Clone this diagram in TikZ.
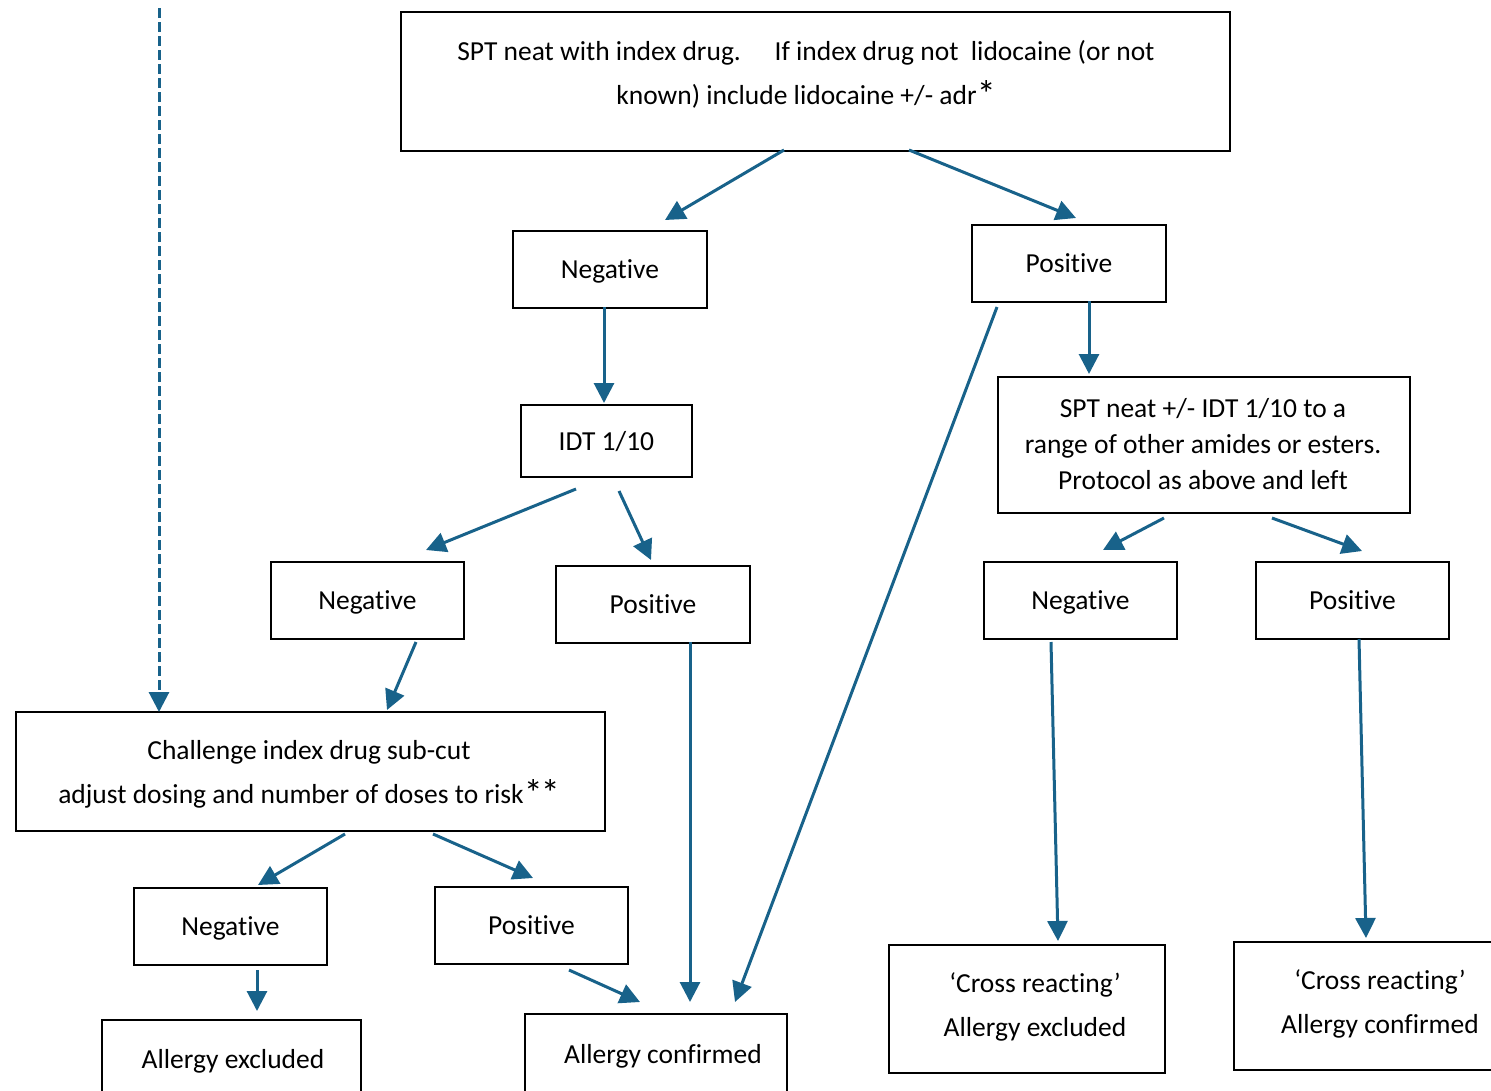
\documentclass[tikz,border=0pt]{standalone}
\usepackage{fontspec}
\setmainfont{Carlito}[Ligatures=NoCommon]
\usetikzlibrary{arrows.meta}
\definecolor{arr}{HTML}{18628A}
\newcommand{\bigast}{\raisebox{-3pt}{\fontsize{38}{38}\selectfont*}}
\begin{document}
\begin{tikzpicture}[x=1pt,y=-1pt,
  box/.style={draw=black,line width=1.8pt,inner sep=0pt,anchor=north west,
    font=\fontsize{27.5}{44}\selectfont,text depth=0pt,text height=19pt},
  txt/.style={inner sep=0pt,font=\fontsize{27.5}{44}\selectfont,align=center},
  con/.style={draw=arr,line width=3pt,-{Triangle[length=20pt,width=20pt]}},
  dcon/.style={con,line width=3pt,dash pattern=on 10pt off 4pt}]
\useasboundingbox (0,0) rectangle (1491,1090);
\clip (0,0) rectangle (1491,1090);
% boxes
\node[box,minimum width=829,minimum height=139] (top) at (400,11) {};
\node[box,minimum width=194,minimum height=77] (neg1) at (512,230) {Negative};
\node[box,minimum width=194,minimum height=77] (pos1) at (971,224) {Positive};
\node[box,minimum width=171,minimum height=72] (idt) at (520,404) {IDT 1/10};
\node[box,minimum width=193,minimum height=77] (neg2) at (270,561) {Negative};
\node[box,minimum width=194,minimum height=77] (pos2) at (555,565) {Positive};
\node[box,minimum width=412,minimum height=136] (spt2) at (997,376) {};
\node[box,minimum width=193,minimum height=77] (neg3) at (983,561) {Negative};
\node[box,minimum width=193,minimum height=77] (pos3) at (1255,561) {Positive};
\node[box,minimum width=589,minimum height=119] (chal) at (15,711) {};
\node[box,minimum width=193,minimum height=77] (neg4) at (133,887) {Negative};
\node[box,minimum width=193,minimum height=77] (pos4) at (434,886) {Positive};
\node[box,minimum width=259,minimum height=90] (aex) at (101,1019) {};
\node[box,minimum width=262,minimum height=90] (acf) at (524,1013) {};
\node[box,minimum width=276,minimum height=128] (cex) at (888,944) {};
\node[box,minimum width=300,minimum height=128] (ccf) at (1233,941) {};
% texts placed separately
\node[txt] (toptxt) at (806,74) {SPT neat with index drug.\quad\ If index drug not\ \ lidocaine (or not\\known) include lidocaine +/- adr\bigast};
\node[txt,font=\fontsize{27.5}{36}\selectfont] (spt2txt) at (1203,444)
  {SPT neat +/- IDT 1/10 to a\\range of other amides or esters.\\Protocol as above and left};
\node[txt] (chaltxt) at (309,774)
  {Challenge index drug sub-cut\\adjust dosing and number of doses to risk\bigast\kern-2pt\bigast};
\node[txt] (aextxt) at (233,1061) {Allergy excluded};
\node[txt] (acftxt) at (663,1056) {Allergy confirmed};
\node[txt] (cextxt) at (1035,1007) {‘Cross reacting’\\Allergy excluded};
\node[txt] (ccftxt) at (1380,1004) {‘Cross reacting’\\Allergy confirmed};
% dashed start
\coordinate (dstart) at (159,8);
% connectors
\draw[dcon] (dstart) -- ([shift={(144,1)}]chal.north west);
\draw[con] ([shift={(384,139)}]top.north west) -- ([shift={(153,-10)}]neg1.north west);
\draw[con] ([shift={(509,139)}]top.north west) -- ([shift={(105,-6)}]pos1.north west);
\draw[con] ([shift={(92,77)}]neg1.north west) -- ([shift={(84,-1)}]idt.north west);
\draw[con] ([shift={(118,77)}]pos1.north west) -- ([shift={(92,-2)}]spt2.north west);
\draw[con] ([shift={(56,85)}]idt.north west) -- ([shift={(156,-11)}]neg2.north west);
\draw[con] ([shift={(99,87)}]idt.north west) -- ([shift={(96,-5)}]pos2.north west);
\draw[con] ([shift={(26,83)}]pos1.north west) -- ([shift={(211,-11)}]acf.north west);
\draw[con] ([shift={(135,77)}]pos2.north west) -- ([shift={(166,-11)}]acf.north west);
\draw[con] ([shift={(146,81)}]neg2.north west) -- ([shift={(372,-1)}]chal.north west);
\draw[con] ([shift={(167,142)}]spt2.north west) -- ([shift={(120,-11)}]neg3.north west);
\draw[con] ([shift={(275,142)}]spt2.north west) -- ([shift={(107,-10)}]pos3.north west);
\draw[con] ([shift={(68,81)}]neg3.north west) -- ([shift={(170,-3)}]cex.north west);
\draw[con] ([shift={(104,78)}]pos3.north west) -- ([shift={(133,-3)}]ccf.north west);
\draw[con] ([shift={(330,123)}]chal.north west) -- ([shift={(125,-2)}]neg4.north west);
\draw[con] ([shift={(418,123)}]chal.north west) -- ([shift={(99,-8)}]pos4.north west);
\draw[con] ([shift={(124,83)}]neg4.north west) -- ([shift={(156,-8)}]aex.north west);
\draw[con] ([shift={(135,84)}]pos4.north west) -- ([shift={(116,-11)}]acf.north west);
\end{tikzpicture}
\end{document}
